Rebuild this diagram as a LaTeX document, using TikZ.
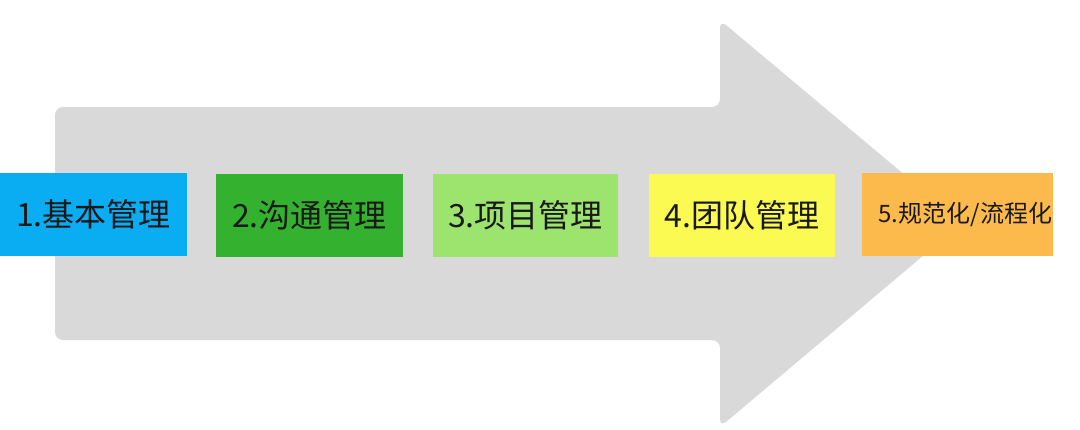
\documentclass[tikz,border=0pt]{standalone}
\usepackage{fontspec}
\usepackage{tikz}
\usepackage{xcolor}
\newfontfamily\cjk{Noto Sans CJK SC}
\definecolor{arrowgray}{RGB}{217,217,217}
\definecolor{basic}{RGB}{10,173,242}
\definecolor{comm}{RGB}{52,177,46}
\definecolor{project}{RGB}{157,228,110}
\definecolor{team}{RGB}{250,250,82}
\definecolor{norm}{RGB}{253,186,76}

\begin{document}
\begin{tikzpicture}[x=1pt, y=-1pt,
    stagebox/.style = {minimum width=187pt, minimum height=83pt, inner sep=0pt,
                       font=\cjk\fontsize{32}{35}\selectfont, text=black!90}
    ]
            \useasboundingbox (0,0) rectangle (1080,429);
            % big gray arrow
            \fill[arrowgray, rounded corners=8pt]
                (55,107) -- (720,107) -- (720,20) -- (962,223)
                -- (720,427) -- (720,340) -- (55,340) -- cycle;
            % stages
            \node[stagebox, fill=basic] (basic) at (93.5,214.5) {1.基本管理};
            \node[stagebox, fill=comm] (comm) at (309.5,215.5) {2.沟通管理};
            \node[stagebox, fill=project, minimum width=185pt] (project) at (525.5,215.5) {3.项目管理};
            \node[stagebox, fill=team, minimum width=186pt] (team) at (742,215.5) {4.团队管理};
            \node[stagebox, fill=norm, minimum width=191pt] (norm) at (957.5,214.5) {};
            \node[anchor=east, inner sep=0pt, font=\cjk\fontsize{24}{27}\selectfont, text=black!90]
                (normtext) at ([xshift=-1pt]norm.east) {5.规范化/流程化};
        \end{tikzpicture}
\end{document}
